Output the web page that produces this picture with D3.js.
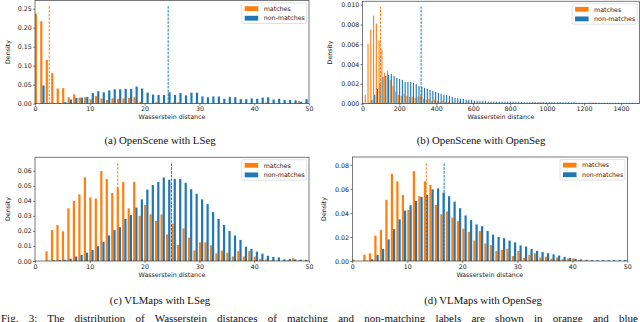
<!DOCTYPE html>
<html><head><meta charset="utf-8">
<script src="https://cdn.jsdelivr.net/npm/d3@7"></script>
<style>body{margin:0;background:#fff}svg{display:block}</style>
</head><body><svg id="c" width="640" height="322"></svg>
<script>
// ---------- data ----------
// (a) OpenScene with LSeg : 50 bins of width 1
const aMatches = [0.237,0.217,0.115,0.081,0.040,0.041,0.017,0.025,0.016,0.017,
  0.012,0.020,0.014,0.010,0.014,0.013,0.014,0.015,0.017,0.005,
  0.002,0.001,0.004,0.002,0.001,0.003,0.004,0.002,0.001,0.002,
  0.002,0.001,0.001,0.001,0.002,0.001,0.001,0.002,0.001,0.002,
  0.001,0.001,0.003,0.001,0.001,0.001,0.001,0.002,0.007,0.001];
const aNonMatches = [0.000,0.048,0.001,0.001,0.002,0.004,0.011,0.015,0.016,0.018,
  0.028,0.033,0.030,0.035,0.038,0.038,0.039,0.039,0.045,0.040,
  0.029,0.024,0.023,0.023,0.030,0.023,0.028,0.022,0.029,0.029,
  0.019,0.017,0.019,0.019,0.013,0.018,0.017,0.012,0.012,0.014,
  0.013,0.016,0.017,0.011,0.013,0.010,0.010,0.009,0.005,0.012];
const aMeans = [2.6, 24.3];

// (b) OpenScene with OpenSeg : bins of width 15 starting at 11
const bMatches = [0.0009,0.0060,0.0075,0.0089,0.0081,0.0064,0.0055,0.0031,0.0033,0.0024,
  0.0018,0.0012,0.0009,0.0008,0.0010,0.0008,0.0007,0.0007,0.0006,0.0007,
  0.0008,0.0005,0.0004,0.0005,0.0003,0.0004,0.0003,0.0002,0.0003,0.0002,
  0.0002,0.0001,0.0002,0.0001,0.0002,0.0001,0.0001,0.0002,0.0001,0.0001,
  0.0001,0.0001,0.0001,0.0001,0.0001,0.0001,0.0001,0.0001,0.0001,0.0001,
  0.0001,0.0001,0.0001,0.0001,0.0001,0.00005,0.00005,0.00005,0.00005,0.00005,
  0.00005,0.00012,0.00012,0.00012,0.00012,0.00005,0.00005,0.00005,0.00005,0.00005,
  0.00005,0.00005,0.00005,0.00005,0.00005,0.00005,0.00005,0.00005,0.00005,0.00005,
  0.00005,0.0001,0.0001,0.0001,0.00003,0.00003,0.00003,0.00003,0.00003,0.00003,
  0.00003,0.00003,0.00003,0.00003,0.00003,0.00003,0.00003,0.00003,0.00003];
const bNonMatches = [0.0000,0.0001,0.0004,0.0009,0.0015,0.0021,0.0027,0.0028,0.0029,0.0030,
  0.0028,0.0026,0.0025,0.0024,0.0022,0.0022,0.0022,0.0021,0.0020,0.0018,
  0.0017,0.0016,0.0015,0.0014,0.0013,0.0012,0.0011,0.0010,0.0009,0.0009,
  0.0008,0.0007,0.0006,0.0006,0.0005,0.0005,0.0004,0.0004,0.0004,0.0003,
  0.0003,0.0003,0.0003,0.0003,0.0002,0.0002,0.0002,0.0002,0.0002,0.0002,
  0.0002,0.0002,0.0002,0.0002,0.0002,0.0002,0.00015,0.00015,0.00015,0.00015,
  0.00015,0.00015,0.00015,0.00015,0.00015,0.00015,0.00015,0.00015,0.00015,0.00015,
  0.00015,0.00015,0.00015,0.00015,0.00015,0.00015,0.0001,0.0001,0.0001,0.0001,
  0.0001,0.0001,0.0001,0.0001,0.0001,0.0001,0.0001,0.0001,0.0001,0.0001,
  0.0001,0.0001,0.0001,0.0001,0.0001,0.0001,0.0001,0.0001,0.0001];
const bMeans = [98, 318];

// (c) VLMaps with LSeg : 50 bins of width 1
const cMatches = [0,0,0.0064,0.0206,0.0239,0.0197,0.035,0.040,0.0443,0.0556,
  0.0423,0.0415,0.0598,0.0545,0.0452,0.0487,0.0525,0.035,0.0525,0.030,
  0.0372,0.031,0.0266,0.031,0.0177,0.0248,0.0106,0.0217,0.0155,0.0070,
  0.0124,0.0124,0.0105,0.0051,0.0069,0.0055,0.003,0.0065,0.003,0.0065,
  0.003,0.0013,0.001,0.0005,0.0003,0.0002,0.0005,0.0018,0.0005,0.0002];
const cNonMatches = [0,0,0.0002,0.0005,0.0006,0.0008,0.0015,0.003,0.004,0.0055,
  0.0073,0.0098,0.0128,0.017,0.0205,0.0225,0.028,0.0305,0.0355,0.041,
  0.0475,0.0505,0.0525,0.0555,0.054,0.0546,0.0545,0.052,0.0477,0.0447,
  0.041,0.0378,0.0325,0.028,0.024,0.020,0.017,0.014,0.0095,0.008,
  0.0062,0.0049,0.0035,0.0027,0.0024,0.0011,0.0013,0.0011,0.0009,0.0007];
const cMeans = [15.1, 24.9];

// (d) VLMaps with OpenSeg : 50 bins of width 1
const dMatches = [0.0011,0,0.0053,0.0064,0.0211,0.0258,0.051,0.0727,0.0664,0.055,
  0.0425,0.075,0.054,0.0664,0.0634,0.0467,0.039,0.0413,0.0362,0.0333,
  0.027,0.0243,0.0171,0.025,0.0146,0.0133,0.0083,0.0092,0.0103,0.0042,
  0.0083,0.0025,0.005,0.0064,0.003,0.0036,0.002,0.003,0.0014,0.002,
  0.0022,0.0008,0.0003,0.0002,0.0001,0,0,0,0,0];
const dNonMatches = [0,0,0.0003,0.0015,0.005,0.010,0.018,0.0265,0.0347,0.042,
  0.0465,0.050,0.0535,0.055,0.0597,0.0605,0.057,0.054,0.0495,0.044,
  0.038,0.034,0.0305,0.029,0.025,0.022,0.020,0.019,0.017,0.0155,
  0.013,0.012,0.010,0.0085,0.0075,0.0065,0.0055,0.0045,0.0035,0.0025,
  0.0018,0.0012,0.001,0.0008,0.0007,0.0007,0.0007,0.0007,0.0007,0.0008];
const dMeans = [13.45, 16.7];

const xTicks50 = [0,10,20,30,40,50];
const xTicks1500 = [0,200,400,600,800,1000,1200,1400];
const aYTicks = [0,0.05,0.10,0.15,0.20,0.25];
const bYTicks = [0,0.002,0.004,0.006,0.008,0.010];
const cYTicks = [0,0.01,0.02,0.03,0.04,0.05,0.06];
const dYTicks = [0,0.02,0.04,0.06,0.08];
const seriesNames = ["matches","non-matches"];
const subCaptions = ["(a) OpenScene with LSeg","(b) OpenScene with OpenSeg","(c) VLMaps with LSeg","(d) VLMaps with OpenSeg"];
const figCaption = "Fig. 3: The distribution of Wasserstein distances of matching and non-matching labels are shown in orange and blue";

// ---------- drawing ----------
const svg = d3.select('#c');
svg.append('rect').attr('width',640).attr('height',322).attr('fill','#fff');
const ORANGE = '#ff7f0e', BLUE = '#1f77b4';
const SANS = 'DejaVu Sans', FS = 6.3;

function panel(o){
  const x = d3.scaleLinear().domain(o.xDomain).range([o.left,o.right]);
  const y = d3.scaleLinear().domain([0,o.yMax]).range([o.bottom,o.top]);
  const g = svg.append('g');
  const clipId = 'clip'+o.id;
  svg.append('clipPath').attr('id',clipId).append('rect')
    .attr('x',o.left).attr('y',o.top).attr('width',o.right-o.left).attr('height',o.bottom-o.top);
  const bars = g.append('g').attr('clip-path',`url(#${clipId})`);
  const series = [{v:o.matches,c:ORANGE,off:0.1},{v:o.non,c:BLUE,off:0.5}];
  series.forEach(s=>{
    bars.append('g').selectAll('rect').data(s.v).join('rect')
      .attr('x',(d,i)=>x(o.binStart+(i+s.off)*o.binWidth))
      .attr('width',(d,i)=>x(o.binStart+(i+s.off+0.4)*o.binWidth)-x(o.binStart+(i+s.off)*o.binWidth))
      .attr('y',d=>y(d)).attr('height',d=>y(0)-y(d)).attr('fill',s.c);
  });
  const vTop = Math.max(d3.max(o.matches),d3.max(o.non))*1.1;
  [[o.means[0],ORANGE],[o.means[1],BLUE]].forEach(([m,c])=>{
    bars.append('line').attr('x1',x(m)).attr('x2',x(m)).attr('y1',y(0)).attr('y2',y(vTop))
      .attr('stroke',c).attr('stroke-width',1).attr('stroke-dasharray','2.6,1.2');
  });
  // axes
  const xa = g.append('g').attr('transform',`translate(0,${o.bottom})`)
    .call(d3.axisBottom(x).tickValues(o.xTicks).tickSize(1.8).tickPadding(1.4).tickFormat(d3.format('d')));
  const ya = g.append('g').attr('transform',`translate(${o.left},0)`)
    .call(d3.axisLeft(y).tickValues(o.yTicks).tickSize(1.8).tickPadding(1.4).tickFormat(d3.format(o.yFmt)));
  [xa,ya].forEach(a=>{
    a.select('.domain').remove();
    a.attr('font-family',SANS).attr('font-size',FS);
    a.selectAll('line').attr('stroke','#222').attr('stroke-width',0.6);
    a.selectAll('text').attr('fill','#222');
  });
  g.append('rect').attr('x',o.left).attr('y',o.top).attr('width',o.right-o.left).attr('height',o.bottom-o.top)
    .attr('fill','none').attr('stroke','#222').attr('stroke-width',0.6);
  g.append('text').attr('x',(o.left+o.right)/2).attr('y',o.bottom+15.5).attr('text-anchor','middle')
    .attr('font-family',SANS).attr('font-size',FS).attr('fill','#222').text('Wasserstein distance');
  g.append('text').attr('transform',`translate(${o.yLabelX},${(o.top+o.bottom)/2}) rotate(-90)`)
    .attr('text-anchor','middle').attr('font-family',SANS).attr('font-size',FS).attr('fill','#222').text('Density');
  // legend
  const lw = 65, lh = 20.5, lx = o.right-2.3-lw, ly = o.top+2.5;
  const lg = g.append('g');
  lg.append('rect').attr('x',lx).attr('y',ly).attr('width',lw).attr('height',lh).attr('rx',1.5)
    .attr('fill','#fff').attr('fill-opacity',0.8).attr('stroke','#cccccc').attr('stroke-width',0.6);
  [[ORANGE,seriesNames[0]],[BLUE,seriesNames[1]]].forEach(([c,t],i)=>{
    const cy = ly+5.6+i*9.6;
    lg.append('rect').attr('x',lx+3).attr('y',cy-2.4).attr('width',13.5).attr('height',4.8).attr('fill',c);
    lg.append('text').attr('x',lx+22).attr('y',cy).attr('dy','0.35em')
      .attr('font-family',SANS).attr('font-size',FS).attr('fill','#222').text(t);
  });
}

panel({id:'a',matches:aMatches,non:aNonMatches,means:aMeans,binStart:-0.15,binWidth:1,
  xDomain:[0,50],yMax:0.2716,left:35,right:309,top:0.5,bottom:103.7,
  xTicks:xTicks50,yTicks:aYTicks,yFmt:'.2f',yLabelX:10});
panel({id:'b',matches:bMatches,non:bNonMatches,means:bMeans,binStart:11,binWidth:15,
  xDomain:[0,1500],yMax:0.01035,left:362.4,right:639.4,top:1.2,bottom:103.7,
  xTicks:xTicks1500,yTicks:bYTicks,yFmt:'.3f',yLabelX:332});
panel({id:'c',matches:cMatches,non:cNonMatches,means:cMeans,binStart:-0.2,binWidth:1,
  xDomain:[0,50],yMax:0.069,left:35,right:309,top:157.2,bottom:261,
  xTicks:xTicks50,yTicks:cYTicks,yFmt:'.2f',yLabelX:10});
panel({id:'d',matches:dMatches,non:dNonMatches,means:dMeans,binStart:-0.1,binWidth:1,
  xDomain:[0,50],yMax:0.0867,left:352.3,right:627.3,top:157,bottom:261,
  xTicks:xTicks50,yTicks:dYTicks,yFmt:'.2f',yLabelX:326});

// captions
const SERIF = 'Liberation Serif';
const capPos = [[160,143.5],[481,143.5],[160,304],[483,304]];
subCaptions.forEach((t,i)=>{
  svg.append('text').attr('x',capPos[i][0]).attr('y',capPos[i][1]).attr('text-anchor','middle')
    .attr('font-family',SERIF).attr('font-size',10.8).attr('fill','#111').text(t);
});
const fc = svg.append('text').attr('x',1).attr('y',321.5).attr('font-family',SERIF)
  .attr('font-size',11).attr('fill','#111').text(figCaption);
const natural = fc.node().getComputedTextLength();
const spaces = (figCaption.match(/ /g)||[]).length;
fc.attr('word-spacing', (637-natural)/spaces);
</script>
</body></html>
